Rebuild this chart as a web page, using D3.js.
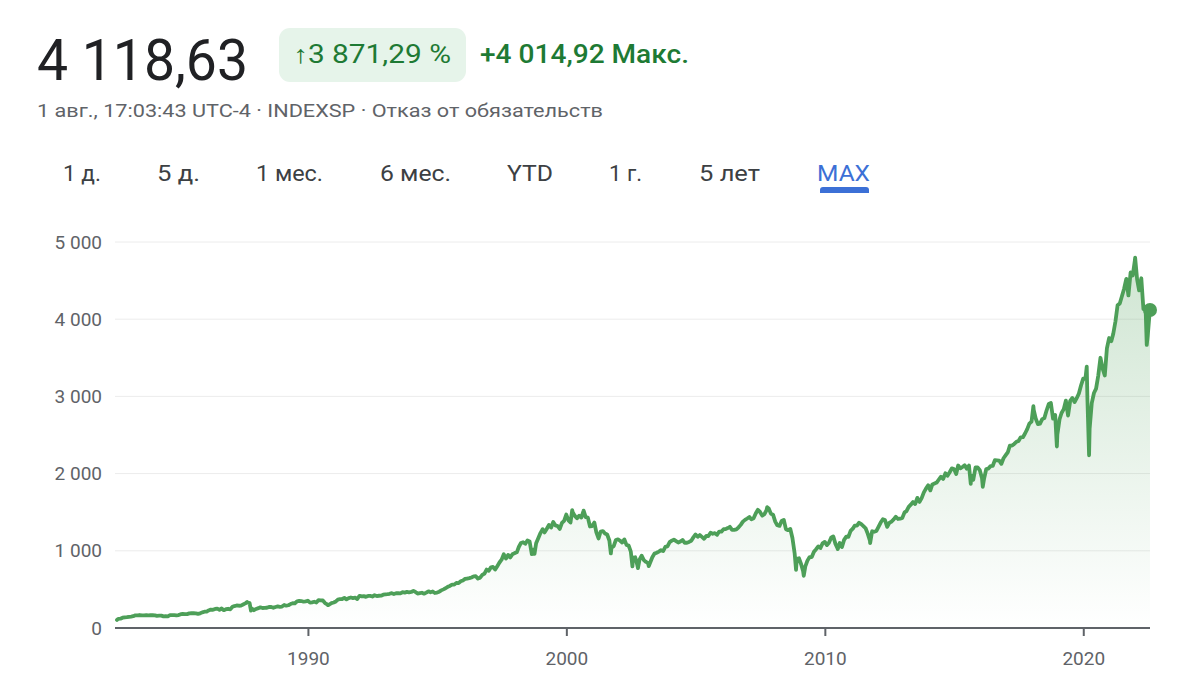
<!DOCTYPE html>
<html>
<head>
<meta charset="utf-8">
<script src="https://cdn.jsdelivr.net/npm/d3@7"></script>
<style>
  html, body { margin: 0; padding: 0; background: #ffffff; }
  svg { display: block; font-family: Roboto, "Noto Sans", Arial, sans-serif; }
</style>
</head>
<body>
<svg id="chart" width="1200" height="677"></svg>
<script>
// ---------------- DATA ----------------
const priceLabel = "4 118,63";
const changePctLabel = "↑3 871,29 %";
const changeAbsLabel = "+4 014,92 Макс.";
const subtitleLabel = "1 авг., 17:03:43 UTC-4 · INDEXSP · Отказ от обязательств";
const rangeTabs = ["1 д.", "5 д.", "1 мес.", "6 мес.", "YTD", "1 г.", "5 лет", "MAX"];
const activeTab = "MAX";

const yTicks = [0, 1000, 2000, 3000, 4000, 5000];
const xTickYears = [1990, 2000, 2010, 2020];

const seriesStart = ["1982-08-13", 103.71];
const seriesEnd = ["2022-08-01", 4118.63];
const firstMonth = "1982-08"; // monthly closes start here

// Monthly closes, Aug 1982 .. Dec 1989
const close1980s = [
  119.5, 120.4, 133.7, 138.5, 140.6,
  145.3, 148.1, 153.0, 164.4, 162.4, 168.1, 162.6, 164.4, 166.1, 163.6, 166.4, 164.9,
  163.4, 157.1, 159.2, 160.1, 150.6, 153.2, 150.7, 166.7, 166.1, 166.1, 163.6, 167.2,
  179.6, 181.2, 180.7, 179.8, 189.6, 191.9, 190.9, 188.6, 182.1, 189.8, 202.2, 211.3,
  211.8, 226.9, 238.9, 235.5, 247.4, 250.8, 236.1, 252.9, 231.3, 244.0, 249.2, 242.2,
  274.1, 284.2, 291.7, 288.4, 290.1, 304.0, 318.7, 329.8, 321.8, 251.8, 230.3, 247.1,
  257.1, 267.8, 258.9, 261.3, 262.2, 273.5, 272.0, 261.5, 271.9, 279.0, 273.7, 277.7,
  297.5, 288.9, 294.9, 309.6, 320.5, 318.0, 346.1, 351.5, 349.2, 340.4, 346.0, 353.4
];
// Monthly closes, 1990 .. 1999
const close1990s = [
  329.1, 331.9, 339.9, 330.8, 361.2, 358.0, 356.2, 322.6, 306.1, 304.0, 322.2, 330.2,
  343.9, 367.1, 375.2, 375.3, 389.8, 371.2, 387.8, 395.4, 387.9, 392.5, 375.2, 417.1,
  408.8, 412.7, 403.7, 415.0, 415.4, 408.1, 424.2, 414.0, 417.8, 418.7, 431.4, 435.7,
  438.8, 443.4, 451.7, 440.2, 450.2, 450.5, 448.1, 463.6, 458.9, 467.8, 461.8, 466.4,
  481.6, 467.1, 445.8, 450.9, 456.5, 444.3, 458.3, 475.5, 462.7, 472.4, 453.7, 459.3,
  470.4, 487.4, 500.7, 514.7, 533.4, 544.8, 562.1, 561.9, 584.4, 581.5, 605.4, 615.9,
  636.0, 640.4, 645.5, 654.2, 669.1, 670.6, 639.9, 652.0, 687.3, 705.3, 757.0, 740.7,
  786.2, 791.0, 757.1, 801.3, 848.3, 885.1, 954.3, 899.5, 947.3, 914.6, 955.4, 970.4,
  980.3, 1049.3, 1101.8, 1111.8, 1090.8, 1133.8, 1120.7, 957.3, 1017.0, 1098.7, 1163.6, 1229.2,
  1279.6, 1238.3, 1286.4, 1335.2, 1301.8, 1372.7, 1328.7, 1320.4, 1282.7, 1362.9, 1389.0, 1469.3
];
// Monthly closes, 2000 .. 2009
const close2000s = [
  1394.5, 1366.4, 1498.6, 1452.4, 1420.6, 1454.6, 1430.8, 1517.7, 1436.5, 1429.4, 1315.2, 1320.3,
  1366.0, 1239.9, 1160.3, 1249.5, 1255.8, 1224.4, 1211.2, 1133.6, 1040.9, 1059.8, 1139.5, 1148.1,
  1130.2, 1106.7, 1147.4, 1076.9, 1067.1, 989.8, 911.6, 916.1, 815.3, 885.8, 936.3, 879.8,
  855.7, 841.2, 848.2, 916.9, 963.6, 974.5, 990.3, 1008.0, 996.0, 1050.7, 1058.2, 1111.9,
  1131.1, 1144.9, 1126.2, 1107.3, 1120.7, 1140.8, 1101.7, 1104.2, 1114.6, 1130.2, 1173.8, 1211.9,
  1181.3, 1203.6, 1180.6, 1156.9, 1191.5, 1191.3, 1234.2, 1220.3, 1228.8, 1207.0, 1249.5, 1248.3,
  1280.1, 1280.7, 1294.9, 1310.6, 1270.1, 1270.2, 1276.7, 1303.8, 1335.9, 1377.9, 1400.6, 1418.3,
  1438.2, 1406.8, 1420.9, 1482.4, 1530.6, 1503.4, 1455.3, 1474.0, 1526.8, 1549.4, 1481.1, 1468.4,
  1378.6, 1330.6, 1322.7, 1385.6, 1400.4, 1280.0, 1267.4, 1282.8, 1166.4, 968.8, 896.2, 903.3,
  825.9, 735.1, 797.9, 872.8, 919.1, 919.3, 987.5, 1020.6, 1057.1, 1036.2, 1095.6, 1115.1
];
// Monthly closes, 2010 .. 2019
const close2010s = [
  1073.9, 1104.5, 1169.4, 1186.7, 1089.4, 1030.7, 1101.6, 1049.3, 1141.2, 1183.3, 1180.6, 1257.6,
  1286.1, 1327.2, 1325.8, 1363.6, 1345.2, 1320.6, 1292.3, 1218.9, 1131.4, 1253.3, 1247.0, 1257.6,
  1312.4, 1365.7, 1408.5, 1397.9, 1310.3, 1362.2, 1379.3, 1406.6, 1440.7, 1412.2, 1416.2, 1426.2,
  1498.1, 1514.7, 1569.2, 1597.6, 1630.7, 1606.3, 1685.7, 1633.0, 1681.6, 1756.5, 1805.8, 1848.4,
  1782.6, 1859.5, 1872.3, 1884.0, 1923.6, 1960.2, 1930.7, 2003.4, 1972.3, 2018.1, 2067.6, 2058.9,
  1995.0, 2104.5, 2067.9, 2085.5, 2107.4, 2063.1, 2103.8, 1972.2, 1920.0, 2079.4, 2080.4, 2043.9,
  1940.2, 1932.2, 2059.7, 2065.3, 2097.0, 2098.9, 2173.6, 2171.0, 2168.3, 2126.2, 2198.8, 2238.8,
  2278.9, 2363.6, 2362.7, 2384.2, 2411.8, 2423.4, 2470.3, 2471.7, 2519.4, 2575.3, 2647.6, 2673.6,
  2823.8, 2713.8, 2640.9, 2648.1, 2705.3, 2718.4, 2816.3, 2901.5, 2914.0, 2711.7, 2760.2, 2506.9,
  2704.1, 2784.5, 2834.4, 2945.8, 2752.1, 2941.8, 2980.4, 2926.5, 2976.7, 3037.6, 3141.0, 3230.8
];
// Monthly closes, 2020 .. Jul 2022
const close2020s = [
  3225.5, 2954.2, 2584.6, 2912.4, 3044.3, 3100.3, 3271.1, 3500.3, 3363.0, 3270.0, 3621.6, 3756.1,
  3714.2, 3811.2, 3972.9, 4181.2, 4204.1, 4297.5, 4395.3, 4522.7, 4307.5, 4605.4, 4567.0, 4766.2,
  4515.6, 4373.9, 4530.4, 4131.9, 4132.2, 3785.4, 4130.3
];
// Intra-month highs and lows visible as spikes
const swingPoints = [
  ["1987-08-25", 336.8], ["1987-10-19", 224.8], ["1990-10-11", 295.5],
  ["1998-10-08", 959.4], ["2000-03-24", 1527.5], ["2000-09-01", 1520.8],
  ["2001-09-21", 965.8], ["2002-07-23", 797.7], ["2002-10-09", 776.8],
  ["2003-03-11", 800.7], ["2007-10-09", 1565.2], ["2008-11-20", 752.4],
  ["2009-03-09", 676.5], ["2010-07-02", 1022.6], ["2011-10-03", 1099.2],
  ["2015-08-25", 1867.6], ["2016-02-11", 1829.1], ["2018-01-26", 2872.9],
  ["2018-12-24", 2351.1], ["2020-02-19", 3386.2], ["2020-03-23", 2237.4],
  ["2022-01-03", 4796.6], ["2022-06-16", 3666.8]
];

// ---------------- BUILD SERIES ----------------
const parse = d3.timeParse("%Y-%m-%d");
const monthly = [].concat(close1980s, close1990s, close2000s, close2010s, close2020s);
const m0 = d3.timeParse("%Y-%m")(firstMonth);
let series = monthly.map((v, i) => {
  const d = new Date(m0.getFullYear(), m0.getMonth() + i + 1, 0); // month end
  return { date: d, value: v };
});
series = series.concat(swingPoints.map(([d, v]) => ({ date: parse(d), value: v })));
series.push({ date: parse(seriesStart[0]), value: seriesStart[1] });
series.push({ date: parse(seriesEnd[0]), value: seriesEnd[1] });
series.sort((a, b) => a.date - b.date);

// ---------------- DRAW ----------------
const svg = d3.select("#chart");
const green = "#4d9f58";
const textGreen = "#1e7a34";

// Header
svg.append("text").attr("x", 37).attr("y", 80)
  .attr("font-size", 58).attr("fill", "#202124")
  .attr("textLength", 211).attr("lengthAdjust", "spacingAndGlyphs")
  .text(priceLabel);

svg.append("rect").attr("x", 279).attr("y", 28).attr("width", 187).attr("height", 54)
  .attr("rx", 11).attr("fill", "#e6f4ea");
svg.append("text").attr("x", 293).attr("y", 63)
  .attr("font-size", 25).attr("fill", textGreen)
  .attr("textLength", 158).attr("lengthAdjust", "spacingAndGlyphs")
  .text(changePctLabel);
svg.append("text").attr("x", 480).attr("y", 63)
  .attr("font-size", 25).attr("font-weight", 500).attr("fill", textGreen)
  .attr("textLength", 209).attr("lengthAdjust", "spacingAndGlyphs")
  .text(changeAbsLabel);

svg.append("text").attr("x", 37).attr("y", 117)
  .attr("font-size", 19).attr("fill", "#5f6368")
  .attr("textLength", 566).attr("lengthAdjust", "spacingAndGlyphs")
  .text(subtitleLabel);

// Range tabs
const tabX = [63, 157, 256, 380, 507, 609, 699, 817];
const tabW = [38, 43, 67, 71, 46, 33, 61, 53];
rangeTabs.forEach((t, i) => {
  svg.append("text").attr("x", tabX[i]).attr("y", 181)
    .attr("font-size", 22).attr("font-weight", 400)
    .attr("fill", t === activeTab ? "#3c70d6" : "#3c4043")
    .attr("textLength", tabW[i]).attr("lengthAdjust", "spacingAndGlyphs")
    .text(t);
});
const ai = rangeTabs.indexOf(activeTab);
svg.append("path")
  .attr("d", `M${tabX[ai] + 3},193 L${tabX[ai] + 3},190 Q${tabX[ai] + 3},187 ${tabX[ai] + 6},187 L${tabX[ai] + 49},187 Q${tabX[ai] + 52},187 ${tabX[ai] + 52},190 L${tabX[ai] + 52},193 Z`)
  .attr("fill", "#3c70d6");

// Scales
const x = d3.scaleTime()
  .domain([parse(seriesStart[0]), parse(seriesEnd[0])])
  .range([117, 1150]);
const y = d3.scaleLinear().domain([0, 5000]).range([628, 242]);

// Gridlines
svg.append("g").selectAll("line").data(yTicks.filter(d => d > 0)).join("line")
  .attr("x1", 115).attr("x2", 1150)
  .attr("y1", d => y(d)).attr("y2", d => y(d))
  .attr("stroke", "#ececec").attr("stroke-width", 1);

// Y labels
const fmt = d => d3.format(",")(d).replace(/,/g, " ");
svg.append("g").selectAll("text").data(yTicks).join("text")
  .attr("x", 102).attr("y", d => y(d)).attr("dy", "0.35em")
  .attr("text-anchor", "end").attr("font-size", 19).attr("fill", "#5f6368")
  .text(fmt);

// Gradient fill
const defs = svg.append("defs");
const grad = defs.append("linearGradient").attr("id", "fillGrad")
  .attr("gradientUnits", "userSpaceOnUse")
  .attr("x1", 0).attr("x2", 0).attr("y1", y(5000)).attr("y2", y(0));
grad.append("stop").attr("offset", "0%").attr("stop-color", green).attr("stop-opacity", 0.28);
grad.append("stop").attr("offset", "100%").attr("stop-color", green).attr("stop-opacity", 0.0);

const area = d3.area().x(d => x(d.date)).y0(y(0)).y1(d => y(d.value));
svg.append("path").datum(series).attr("d", area).attr("fill", "url(#fillGrad)");

// X axis
const xAxis = d3.axisBottom(x)
  .tickValues(xTickYears.map(yr => new Date(yr, 0, 1)))
  .tickFormat(d3.timeFormat("%Y"))
  .tickSize(8).tickSizeOuter(0).tickPadding(16);
const gx = svg.append("g").attr("transform", `translate(0,${y(0)})`).call(xAxis);
gx.select(".domain").remove();
gx.selectAll(".tick line").attr("stroke", "#5f6368").attr("stroke-width", 2);
gx.selectAll(".tick text").attr("font-size", 19).attr("fill", "#5f6368")
  .attr("font-family", "Roboto, 'Noto Sans', sans-serif");
svg.append("line").attr("x1", 115).attr("x2", 1150).attr("y1", y(0)).attr("y2", y(0))
  .attr("stroke", "#5f6368").attr("stroke-width", 2);

// Line
const line = d3.line().x(d => x(d.date)).y(d => y(d.value));
svg.append("path").datum(series).attr("d", line)
  .attr("fill", "none").attr("stroke", green).attr("stroke-width", 3.8)
  .attr("stroke-linejoin", "round").attr("stroke-linecap", "round");

// End dot
const last = series[series.length - 1];
svg.append("circle").attr("cx", x(last.date)).attr("cy", y(last.value)).attr("r", 7)
  .attr("fill", green);
</script>
</body>
</html>
